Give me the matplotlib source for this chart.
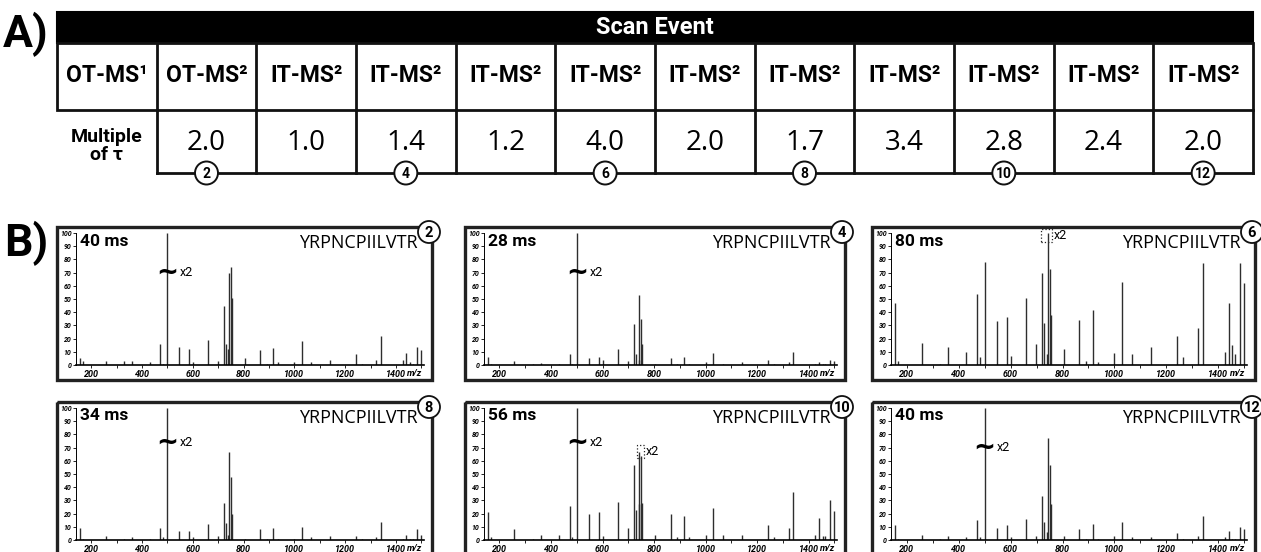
import matplotlib
matplotlib.use("Agg")
import matplotlib.pyplot as plt
from matplotlib import font_manager
from matplotlib.patches import Rectangle, Circle

W, H = 1261, 552

# compact face for the bold labels, a plain humanist face for numbers / sequence
_names = {f.name for f in font_manager.fontManager.ttflist}
NARROW = next(f for f in ["Liberation Sans Narrow", "Roboto", "DejaVu Sans"]
              if f in _names)
PLAIN = "Open Sans" if "Open Sans" in _names else "DejaVu Sans"

# ---- A) scan event table ----
scan_events = ["OT-MS¹", "OT-MS²", "IT-MS²", "IT-MS²", "IT-MS²", "IT-MS²",
               "IT-MS²", "IT-MS²", "IT-MS²", "IT-MS²", "IT-MS²", "IT-MS²"]
tau_multiples = ["2.0", "1.0", "1.4", "1.2", "4.0", "2.0",
                 "1.7", "3.4", "2.8", "2.4", "2.0"]

# ---- B) spectra of YRPNCPIILVTR, one per marked scan event ----
peptide = "YRPNCPIILVTR"
scan_numbers = [2, 4, 6, 8, 10, 12]
fill_times = ["40 ms", "28 ms", "80 ms", "34 ms", "56 ms", "40 ms"]

fragment_mz = [157, 168, 258, 330, 360, 430, 472, 482, 500, 546, 585, 600,
               660, 699, 721, 729, 740, 743, 751, 755, 804, 864, 890, 917,
               937, 1000, 1030, 1066, 1140, 1242, 1265, 1322, 1341, 1426,
               1441, 1454, 1465, 1484, 1500]

int_scan2 = [5, 3, 3, 3, 3, 2, 16, 1, 100, 14, 12, 2, 19, 3, 45, 16, 12, 70,
             74, 51, 5, 11, 1, 13, 2, 2, 18, 2, 4, 8, 1, 4, 22, 4, 9, 2, 1,
             14, 11]
int_scan4 = [6, 1, 3, 1, 1.5, 1, 8, 1, 100, 5, 6, 4, 12, 3, 31, 8, 4, 53, 35,
             16, 1, 5, 1, 6, 1, 2, 9, 1, 2, 4, 1, 2, 10, 1, 2, 1, 1, 4, 3]
int_scan6 = [47, 3, 17, 1, 14, 10, 54, 6, 78, 33, 36, 7, 51, 16, 70, 32, 8,
             100, 73, 38, 12, 34, 3, 42, 2, 9, 63, 8, 14, 22, 6, 28, 77, 10,
             47, 15, 8, 77, 62]
int_scan8 = [9, 1, 3, 1, 2, 1, 9, 2, 100, 7, 7, 2, 12, 3, 28, 13, 4, 67, 48,
             20, 1, 8, 1, 9, 1, 1, 10, 2, 3, 3, 1, 2, 14, 1, 4, 1, 1, 8, 4]
int_scan10 = [21, 2, 8, 1, 4, 4, 26, 2, 100, 20, 21, 3, 29, 9, 57, 23, 27, 67,
              64, 28, 4, 20, 2, 18, 2, 4, 24, 4, 4, 11, 2, 9, 36, 4, 17, 3, 3,
              30, 22]
int_scan12 = [11, 1, 4, 1, 3, 2, 15, 2, 100, 9, 11, 2, 16, 3, 33, 14, 6, 77,
              57, 27, 3, 8, 1, 12, 1, 3, 14, 2, 2, 5, 1, 3, 18, 2, 7, 1, 1,
              10, 8]
intensities = [int_scan2, int_scan4, int_scan6, int_scan8, int_scan10, int_scan12]

# x2 scaling marks: broken peak at m/z 500 (height of the ~), dotted zoom box
break_height = [70, 70, None, 74, 74, 70]
zoom_box = [None, None, (716, 760, 93, 103), None, (733, 762, 62, 72), None]


def px_rect(x0, y0, x1, y1):
    """pixel box (y downwards) -> figure fraction [l, b, w, h]"""
    return [x0 / W, 1 - y1 / H, (x1 - x0) / W, (y1 - y0) / H]


def draw_table(ov):
    x0, x1 = 57, 1253
    cw = (x1 - x0) / len(scan_events)
    # black title band
    ov.add_patch(Rectangle((x0, 12), x1 - x0, 31, fc="black", ec="black", lw=1.5))
    ov.text((x0 + x1) / 2, 28, "Scan Event", color="white", fontsize=17,
            fontweight="bold", family=NARROW, ha="center", va="center")
    # header row
    ov.add_patch(Rectangle((x0, 43), x1 - x0, 67, fill=False, ec="#111", lw=2))
    for i, lab in enumerate(scan_events):
        if i > 0:
            ov.plot([x0 + i * cw] * 2, [43, 110], color="#111", lw=2)
        ov.text(x0 + (i + 0.5) * cw, 76, lab, fontsize=16.5, fontweight="bold",
                family=NARROW, ha="center", va="center")
    # multiple of tau row
    ov.text(x0 + cw / 2, 146, "Multiple\nof τ", fontsize=14, fontweight="bold",
            family=NARROW, ha="center", va="center", linespacing=1.0)
    for k in range(len(tau_multiples) + 1):
        ov.plot([x0 + (k + 1) * cw] * 2, [110, 173], color="#111", lw=2)
    ov.plot([x0 + cw, x1], [173, 173], color="#111", lw=2)
    for k, val in enumerate(tau_multiples):
        ov.text(x0 + (k + 1.5) * cw, 143, val, fontsize=20, family=PLAIN,
                ha="center", va="center")
    # scan numbers under every second column
    for i in range(1, len(scan_events), 2):
        cx = x0 + (i + 0.5) * cw
        ov.add_patch(Circle((cx, 173), 11.5, fc="white", ec="#111", lw=1.4, zorder=3))
        ov.text(cx, 174, str(i + 1), fontsize=10, fontweight="bold", family=NARROW,
                ha="center", va="center", zorder=4)


def draw_spectrum(fig, ov, n, frame):
    fx0, fy0, fx1, fy1 = frame
    ax = fig.add_axes(px_rect(fx0 + 19, fy0 + 6, fx1 - 8, fy0 + 138))
    ax.set_facecolor("none")
    ax.vlines(fragment_mz, 0, intensities[n], color="#2e2e2e", lw=1.0)
    ax.set_xlim(140, 1510)
    ax.set_ylim(0, 100)
    for s in ["top", "right"]:
        ax.spines[s].set_visible(False)
    ax.spines["left"].set_linewidth(0.7)
    ax.spines["bottom"].set_linewidth(1.2)
    ax.set_xticks(range(200, 1401, 200))
    ax.set_xticks(range(300, 1501, 200), minor=True)
    ax.set_yticks(range(0, 101, 10))
    ax.tick_params(axis="both", which="both", length=2.5, width=0.6, pad=0.8)
    ax.tick_params(axis="x", labelsize=6.5)
    ax.tick_params(axis="y", labelsize=5)
    for lab in ax.get_xticklabels() + ax.get_yticklabels():
        lab.set_fontstyle("italic")
        lab.set_fontweight("bold")
        lab.set_family(NARROW)
    ax.annotate("m/z", xy=(1400, 0), xycoords=("data", "axes fraction"),
                xytext=(8, -2.6), textcoords="offset points", ha="left", va="top",
                fontsize=6.5, fontstyle="italic", fontweight="bold", family=NARROW)

    # x2 markers
    if break_height[n] is not None:
        h = break_height[n]
        ax.text(500, h, "~", fontsize=19, fontweight="bold", family="DejaVu Sans",
                ha="center", va="center")
        ax.annotate("x2", xy=(500, h), xytext=(9, 0), textcoords="offset points",
                    fontsize=9, family=NARROW, va="center")
    if zoom_box[n] is not None:
        m0, m1, i0, i1 = zoom_box[n]
        ax.add_patch(Rectangle((m0, i0), m1 - m0, i1 - i0, fill=False, ls=":",
                               lw=0.9, ec="#222", clip_on=False))
        ax.text(m1 + 5, (i0 + i1) / 2, "x2", fontsize=9, family=NARROW,
                va="center", clip_on=False)

    # frame, labels and scan number badge
    ov.add_patch(Rectangle((fx0, fy0), fx1 - fx0, fy1 - fy0, fill=False,
                           ec="#222", lw=2.4))
    ov.text(fx0 + 23, fy0 + 14, fill_times[n], fontsize=12.5, fontweight="bold",
            family=NARROW, ha="left", va="center")
    ov.text(fx1 - 14, fy0 + 16, peptide, fontsize=13, family=PLAIN,
            ha="right", va="center")
    ov.add_patch(Circle((fx1 - 3, fy0 + 5), 11, fc="white", ec="#111",
                        lw=1.3, zorder=3))
    ov.text(fx1 - 3, fy0 + 6, str(scan_numbers[n]), fontsize=10.5,
            fontweight="bold", family=NARROW, ha="center", va="center", zorder=4)


def main():
    fig = plt.figure(figsize=(W / 100, H / 100), dpi=100)
    fig.patch.set_facecolor("white")

    frames_x = [(57, 432), (465, 845), (872, 1255)]
    frames_y = [(227, 380), (402, 555)]
    frames = [(x0, y0, x1, y1) for (y0, y1) in frames_y for (x0, x1) in frames_x]

    # overlay in pixel coordinates for table, frames and labels
    ov = fig.add_axes([0, 0, 1, 1], zorder=5)
    ov.set_xlim(0, W)
    ov.set_ylim(H, 0)
    ov.set_facecolor("none")
    ov.axis("off")

    ov.text(26, 34, "A)", fontsize=32, fontweight="bold", family=NARROW,
            ha="center", va="center")
    ov.text(26, 243, "B)", fontsize=32, fontweight="bold", family=NARROW,
            ha="center", va="center")

    draw_table(ov)
    for n, fr in enumerate(frames):
        draw_spectrum(fig, ov, n, fr)

    fig.savefig("out.png", dpi=100)


if __name__ == "__main__":
    main()
